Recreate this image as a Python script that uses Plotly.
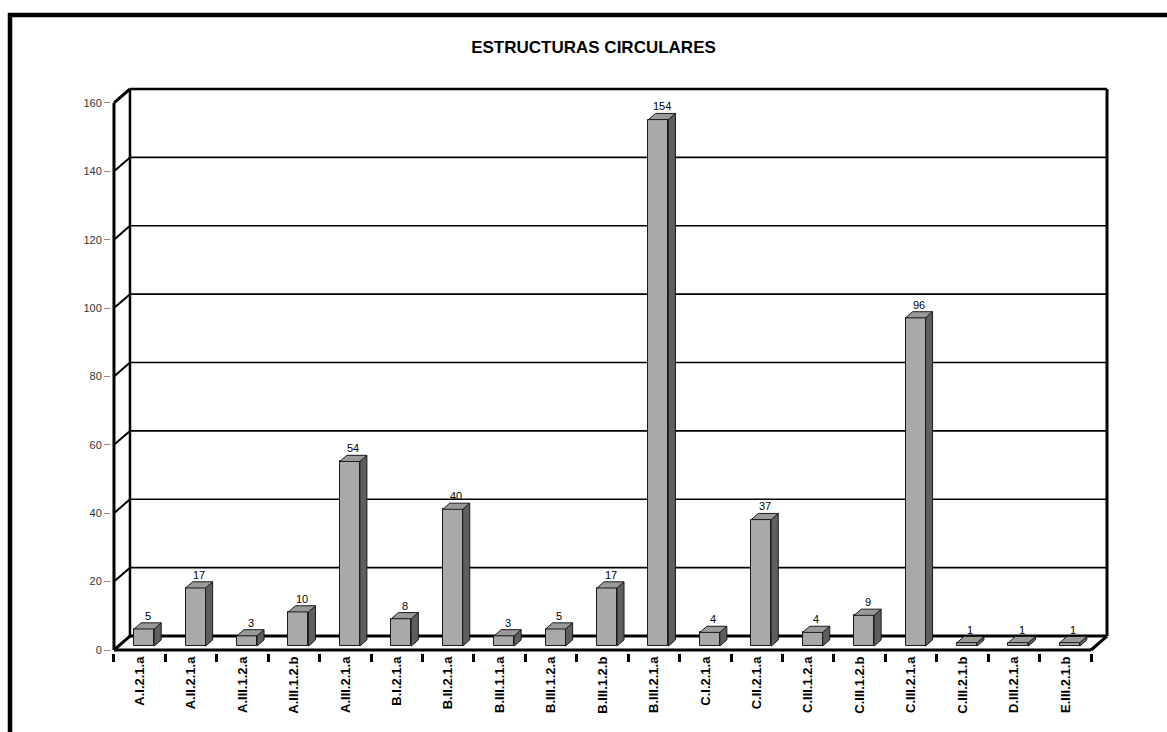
import plotly.graph_objects as go

# ---- data ----
categories = [
    "A.I.2.1.a", "A.II.2.1.a", "A.III.1.2.a", "A.III.1.2.b", "A.III.2.1.a",
    "B.I.2.1.a", "B.II.2.1.a", "B.III.1.1.a", "B.III.1.2.a", "B.III.1.2.b",
    "B.III.2.1.a", "C.I.2.1.a", "C.II.2.1.a", "C.III.1.2.a", "C.III.1.2.b",
    "C.III.2.1.a", "C.III.2.1.b", "D.III.2.1.a", "E.III.2.1.b",
]
values = [5, 17, 3, 10, 54, 8, 40, 3, 5, 17, 154, 4, 37, 4, 9, 96, 1, 1, 1]
y_ticks = [0, 20, 40, 60, 80, 100, 120, 140, 160]
title_text = "ESTRUCTURAS CIRCULARES"

# ---- pseudo-3D geometry (in axis units) ----
W, H = 1167, 732
n = len(categories)
y_max = y_ticks[-1]
WDX = 0.311          # depth of the chart box along x (categories)
WDY = 4.09           # depth of the chart box along y (values)
BW = 0.389           # bar front-face width
F_DEPTH, B_DEPTH = 0.28, 0.72   # bar front/back position within the box depth
PADX, PADY = 0.058, 0.877       # small pad so edge lines are not clipped

x_lo, x_hi = -0.5 - PADX, n - 0.5 + WDX + PADX
y_lo, y_hi = -PADY, y_max + WDY + PADY

M_L, M_R, M_T, M_B = 111, 57, 86, 79
plot_w = W - M_L - M_R
plot_h = H - M_T - M_B

FONT = "Liberation Sans, Arial, sans-serif"
EDGE = "#1a1a1a"
FRONT_C, TOP_C, SIDE_C = "#a9a9a9", "#9a9a9a", "#5e5e5e"

shapes = []


def seg(x0, y0, x1, y1, w, layer="below"):
    shapes.append(dict(type="line", xref="x", yref="y", x0=x0, y0=y0, x1=x1, y1=y1,
                       line=dict(color="black", width=w), layer=layer))


left_front = -0.5
left_back = -0.5 + WDX
right_front = n - 0.5
right_back = n - 0.5 + WDX

# back wall gridlines and left wall diagonals
for t in y_ticks:
    if t == 0:
        wg = 3
    elif t == y_max:
        wg = 2.5
    else:
        wg = 1.6
    seg(left_back, t + WDY, right_back, t + WDY, wg)
    seg(left_front, t, left_back, t + WDY, 3 if t in (0, y_max) else 2)

# left wall verticals, back wall right edge
seg(left_front, 0, left_front, y_max, 3)
seg(left_back, WDY, left_back, y_max + WDY, 2.5)
seg(right_back, WDY, right_back, y_max + WDY, 3)
# floor front edge and right floor edge
seg(left_front, 0, right_front, 0, 3)
seg(right_front, 0, right_back, WDY, 3)

# bar top and side faces
ddx = (B_DEPTH - F_DEPTH) * WDX
ddy = (B_DEPTH - F_DEPTH) * WDY
base = F_DEPTH * WDY
for i, v in enumerate(values):
    x0 = i + F_DEPTH * WDX - BW / 2
    x1 = x0 + BW
    y0 = base
    y1 = base + v
    top = (f"M {x0},{y1} L {x0 + ddx},{y1 + ddy} L {x1 + ddx},{y1 + ddy} "
           f"L {x1},{y1} Z")
    side = (f"M {x1},{y0} L {x1},{y1} L {x1 + ddx},{y1 + ddy} "
            f"L {x1 + ddx},{y0 + ddy} Z")
    shapes.append(dict(type="path", xref="x", yref="y", path=side,
                       fillcolor=SIDE_C, line=dict(color=EDGE, width=1), layer="above"))
    shapes.append(dict(type="path", xref="x", yref="y", path=top,
                       fillcolor=TOP_C, line=dict(color=EDGE, width=1), layer="above"))

# outer frame around the whole chart (extends past the bottom/right edges)
def px_to_paper_x(px):
    return (px - M_L) / plot_w


def px_to_paper_y(py):
    return (H - M_B - py) / plot_h


shapes.append(dict(type="rect", xref="paper", yref="paper",
                   x0=px_to_paper_x(10), x1=px_to_paper_x(1200),
                   y0=px_to_paper_y(780), y1=px_to_paper_y(15),
                   line=dict(color="black", width=4.5), fillcolor="rgba(0,0,0,0)",
                   layer="above"))

# value labels above each bar
annotations = []
for i, v in enumerate(values):
    annotations.append(dict(
        x=i + 0.5 * WDX, y=base + v + ddy, xref="x", yref="y",
        text=str(v), showarrow=False, yanchor="bottom", yshift=-1,
        font=dict(family=FONT, size=11, color="black"),
    ))

fig = go.Figure()
fig.add_trace(go.Bar(
    x=categories, y=values, base=base,
    offset=F_DEPTH * WDX - BW / 2, width=BW,
    marker=dict(color=FRONT_C, line=dict(color=EDGE, width=1)),
    hoverinfo="x+text", hovertext=[str(v) for v in values],
))

fig.update_layout(
    width=W, height=H,
    margin=dict(l=M_L, r=M_R, t=M_T, b=M_B, autoexpand=False),
    paper_bgcolor="white", plot_bgcolor="white",
    showlegend=False,
    title=dict(text=title_text, x=593.5 / W, y=1 - 47 / H,
               xref="container", yref="container",
               xanchor="center", yanchor="middle",
               font=dict(family=FONT, size=17, color="black", weight="bold")),
    xaxis=dict(
        type="category", range=[x_lo, x_hi], tickson="boundaries",
        ticks="outside", ticklen=8, tickwidth=3, tickcolor="black",
        showline=False, showgrid=False, zeroline=False,
        tickangle=-90,
        tickfont=dict(family=FONT, size=13, color="black", weight="bold"),
        fixedrange=True,
    ),
    yaxis=dict(
        range=[y_lo, y_hi], tickmode="array", tickvals=y_ticks,
        ticktext=[str(t) for t in y_ticks],
        ticks="outside", ticklen=6, tickwidth=1, tickcolor="#8a8a8a",
        showline=False, showgrid=False, zeroline=False,
        tickfont=dict(family=FONT, size=11, color="#333333"),
        fixedrange=True,
    ),
    shapes=shapes,
    annotations=annotations,
    bargap=0,
)

fig.write_html("out.html")
